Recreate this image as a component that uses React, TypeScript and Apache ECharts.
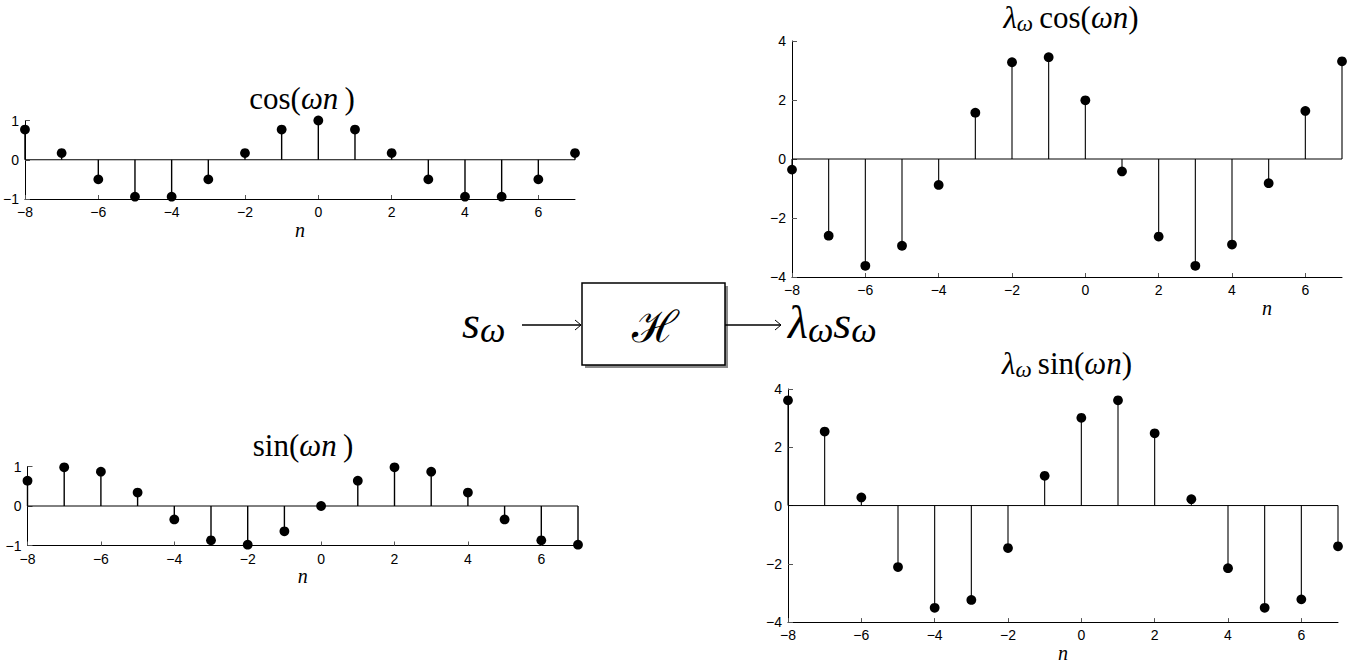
import { useEffect, useRef } from "react";
import * as echarts from "echarts";

const nValues = [-8, -7, -6, -5, -4, -3, -2, -1, 0, 1, 2, 3, 4, 5, 6, 7];
const cosValues = [0.77, 0.17, -0.5, -0.94, -0.94, -0.5, 0.17, 0.77, 1, 0.77, 0.17, -0.5, -0.94, -0.94, -0.5, 0.17];
const sinValues = [0.64, 0.98, 0.87, 0.34, -0.34, -0.87, -0.98, -0.64, 0, 0.64, 0.98, 0.87, 0.34, -0.34, -0.87, -0.98];
const lamCosValues = [-0.36, -2.6, -3.62, -2.94, -0.88, 1.57, 3.28, 3.45, 1.99, -0.42, -2.63, -3.62, -2.9, -0.82, 1.63, 3.31];
const lamSinValues = [3.61, 2.54, 0.28, -2.11, -3.51, -3.24, -1.46, 1.02, 3.01, 3.61, 2.48, 0.22, -2.15, -3.51, -3.22, -1.4];
const xRange = [-8, 7];
const smallYRange = [-1, 1];
const bigYRange = [-4, 4];

const MATH = "'Liberation Serif', 'DejaVu Serif', serif";
const SANS = "'Liberation Sans', Arial, sans-serif";

const minus = (v: number) => String(v).replace("-", "\u2212");

const grids = [
  { left: 24.5, top: 120.5, width: 550.5, height: 78.5 },
  { left: 27.5, top: 466.5, width: 550.5, height: 79 },
  { left: 792, top: 41, width: 550, height: 236 },
  { left: 788, top: 389, width: 550, height: 236 },
];

const makeX = (i: number, withName: boolean) => ({
  gridIndex: i,
  type: "value",
  min: xRange[0],
  max: xRange[1],
  interval: 2,
  name: withName ? "n" : "",
  nameLocation: "middle",
  nameGap: 18,
  nameTextStyle: { fontFamily: MATH, fontStyle: "italic", fontSize: 20, color: "#000" },
  axisLine: { show: true, onZero: false, lineStyle: { color: "#000", width: 1 } },
  axisTick: { show: true, inside: true, length: 4, lineStyle: { color: "#555" } },
  splitLine: { show: false },
  axisLabel: { formatter: minus, color: "#000", fontSize: 14, fontFamily: SANS, margin: 6, showMaxLabel: false },
});

const makeY = (i: number, range: number[], interval: number) => ({
  gridIndex: i,
  type: "value",
  min: range[0],
  max: range[1],
  interval,
  axisLine: { show: true, onZero: false, lineStyle: { color: "#000", width: 1 } },
  axisTick: { show: true, inside: true, length: 5, lineStyle: { color: "#555" } },
  splitLine: { show: false },
  axisLabel: { formatter: minus, color: "#000", fontSize: 14, fontFamily: SANS, margin: 6 },
});

const stemSeries = (i: number, values: number[], lw: number) => [
  {
    type: "line",
    xAxisIndex: i,
    yAxisIndex: i,
    data: [[xRange[0], 0], [xRange[1], 0]],
    symbol: "none",
    lineStyle: { color: "#000", width: 1 },
    silent: true,
  },
  {
    type: "custom",
    xAxisIndex: i,
    yAxisIndex: i,
    clip: false,
    data: nValues.map((n, k) => [n, values[k]]),
    renderItem: (_params: any, api: any) => {
      const x = api.value(0);
      const y = api.value(1);
      const p0 = api.coord([x, 0]);
      const p1 = api.coord([x, y]);
      return {
        type: "group",
        children: [
          { type: "line", shape: { x1: p0[0], y1: p0[1], x2: p1[0], y2: p1[1] }, style: { stroke: "#000", lineWidth: lw } },
          { type: "circle", shape: { cx: p1[0], cy: p1[1], r: 4.9 }, style: { fill: "#000" } },
        ],
      };
    },
  },
];

const richStyles = {
  r: { fontFamily: MATH, fontSize: 31, lineHeight: 36, color: "#000" },
  i: { fontFamily: MATH, fontSize: 31, fontStyle: "italic", lineHeight: 36, color: "#000" },
  sub: { fontFamily: MATH, fontSize: 23, fontStyle: "italic", verticalAlign: "bottom", lineHeight: 22, color: "#000" },
  R: { fontFamily: MATH, fontSize: 46, lineHeight: 52, color: "#000" },
  I: { fontFamily: MATH, fontSize: 46, fontStyle: "italic", lineHeight: 52, color: "#000" },
  SUB: { fontFamily: MATH, fontSize: 36, fontStyle: "italic", verticalAlign: "bottom", lineHeight: 34, color: "#000" },
};

const mathText = (x: number, y: number, text: string, align = "center") => ({
  type: "text",
  x,
  y,
  style: { text, rich: richStyles, align, verticalAlign: "middle" },
});

export default function App() {
  const ref = useRef<HTMLDivElement>(null);
  useEffect(() => {
    if (!ref.current) return;
    const chart = echarts.init(ref.current, null, { renderer: "svg" });
    const arrowY = 325;
    chart.setOption({
      animation: false,
      backgroundColor: "#fff",
      grid: grids.map((g) => ({ ...g, containLabel: false })),
      xAxis: [makeX(0, true), makeX(1, true), makeX(2, false), makeX(3, true)],
      yAxis: [makeY(0, smallYRange, 1), makeY(1, smallYRange, 1), makeY(2, bigYRange, 2), makeY(3, bigYRange, 2)],
      series: [
        ...stemSeries(0, cosValues, 1.4),
        ...stemSeries(1, sinValues, 1.4),
        ...stemSeries(2, lamCosValues, 1.1),
        ...stemSeries(3, lamSinValues, 1.1),
      ],
      graphic: [
        mathText(302, 98, "{r|cos(}{i|ωn}{r|\u2009)}"),
        mathText(303, 445, "{r|sin(}{i|ωn}{r|\u2009)}"),
        mathText(1071, 17, "{i|λ}{sub|ω}{r|\u2009cos(}{i|ωn}{r|)}"),
        mathText(1067, 363, "{i|λ}{sub|ω}{r|\u2009sin(}{i|ωn}{r|)}"),
        {
          type: "text",
          x: 1267,
          y: 308,
          style: { text: "n", fontFamily: MATH, fontStyle: "italic", fontSize: 20, fill: "#000", align: "center", verticalAlign: "middle" },
        },
        mathText(462, arrowY - 3, "{I|s}{SUB|ω}", "left"),
        { type: "line", shape: { x1: 522, y1: arrowY, x2: 581, y2: arrowY }, style: { stroke: "#000", lineWidth: 1.6 } },
        { type: "polyline", shape: { points: [[575, arrowY - 5], [581, arrowY], [575, arrowY + 5]] }, style: { stroke: "#000", lineWidth: 1, fill: "none" } },
        { type: "rect", shape: { x: 585, y: 286, width: 143, height: 82 }, style: { fill: "#8a8a8a" } },
        { type: "rect", shape: { x: 582, y: 283, width: 143, height: 82 }, style: { fill: "#fff", stroke: "#000", lineWidth: 1.5 } },
        {
          type: "text",
          x: 655,
          y: 326,
          style: { text: "ℋ", fontFamily: "'DejaVu Serif', serif", fontSize: 44, fill: "#000", align: "center", verticalAlign: "middle" },
        },
        { type: "line", shape: { x1: 725, y1: arrowY, x2: 781, y2: arrowY }, style: { stroke: "#000", lineWidth: 1.6 } },
        { type: "polyline", shape: { points: [[775, arrowY - 5], [781, arrowY], [775, arrowY + 5]] }, style: { stroke: "#000", lineWidth: 1, fill: "none" } },
        mathText(788, arrowY - 3, "{I|λ}{SUB|ω}{I|s}{SUB|ω}", "left"),
      ],
    });
    return () => chart.dispose();
  }, []);
  return <div ref={ref} style={{ position: "fixed", left: 0, top: 0, width: 1354, height: 664, background: "#fff" }} />;
}
